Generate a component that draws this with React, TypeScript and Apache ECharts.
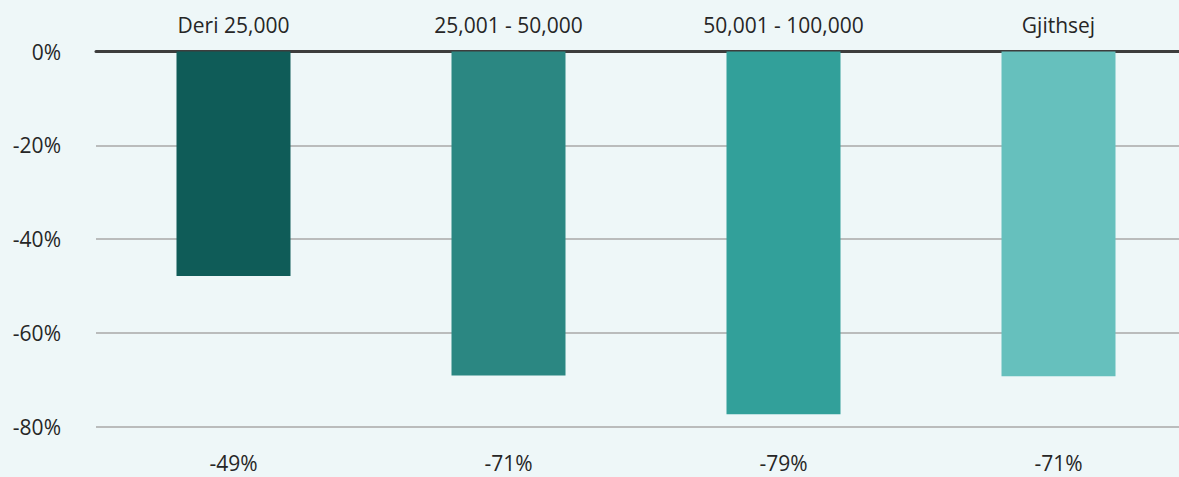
import React, { useEffect, useRef } from "react";
import * as echarts from "echarts";

const categories = ["Deri 25,000", "25,001 - 50,000", "50,001 - 100,000", "Gjithsej"];
const values = [-47.9, -69.1, -77.4, -69.3];
const valueLabels = ["-49%", "-71%", "-79%", "-71%"];
const barColors = ["#0f5c58", "#2b8782", "#32a09a", "#66c0bd"];
const yTicks = { min: -80, max: 0, interval: 20 };

export default function App() {
  const ref = useRef<HTMLDivElement>(null);
  useEffect(() => {
    document.body.style.margin = "0";
    document.body.style.overflow = "hidden";
    const chart = echarts.init(ref.current!, null, { renderer: "svg" });
    const font = "'Open Sans', sans-serif";
    const txt = "#262626";
    chart.setOption({
      animation: false,
      backgroundColor: "#eef7f8",
      grid: { left: 96, right: 0, top: 51.5, bottom: 50.5 },
      xAxis: [
        {
          type: "category",
          position: "top",
          data: categories,
          axisLine: { show: true, lineStyle: { color: "#3d3d3d", width: 3 } },
          axisTick: { show: false },
          axisLabel: { margin: 16, color: txt, fontSize: 21, fontFamily: font },
        },
        {
          type: "category",
          position: "bottom",
          data: valueLabels,
          axisLine: { show: false },
          axisTick: { show: false },
          axisLabel: { margin: 26, color: txt, fontSize: 21, fontFamily: font },
        },
      ],
      yAxis: {
        type: "value",
        min: yTicks.min,
        max: yTicks.max,
        interval: yTicks.interval,
        axisLine: { show: false },
        axisTick: { show: false },
        axisLabel: {
          margin: 35,
          color: txt,
          fontSize: 21,
          fontFamily: font,
          formatter: (v: number) => `${v}%`,
        },
        splitLine: { lineStyle: { color: "#a9a9a9", width: 1.5 } },
      },
      series: [
        {
          type: "bar",
          xAxisIndex: 0,
          barWidth: 114,
          data: values.map((v, i) => ({ value: v, itemStyle: { color: barColors[i] } })),
        },
      ],
    });
    return () => chart.dispose();
  }, []);
  return (
    <div style={{ width: 1179, height: 477, overflow: "hidden" }}>
      <div ref={ref} style={{ width: 1196, height: 477 }} />
    </div>
  );
}
